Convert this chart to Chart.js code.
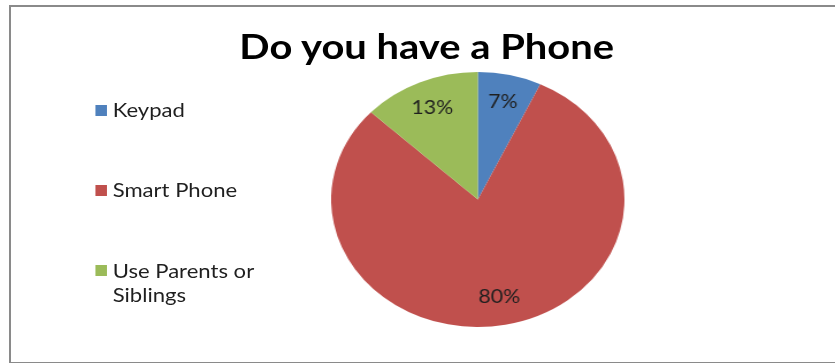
<!DOCTYPE html>
<html>
<head>
<meta charset="utf-8">
<script src="https://cdn.jsdelivr.net/npm/chart.js@4"></script>
<style>
  body {
    margin: 0;
    width: 835px;
    height: 363px;
    overflow: hidden;
    background: #fff;
    font-family: Lato, "Open Sans", sans-serif;
  }
  .frame {
    position: absolute;
    left: 9px;
    top: 5px;
    width: 860px;
    height: 355px;
    border: 2px solid #8a8a8a;
  }
  /* the original picture is stretched sideways, so the whole chart is too */
  .stretch {
    position: absolute;
    left: 0;
    top: 0;
    width: 726px;
    height: 363px;
    transform-origin: 0 0;
    transform: scaleX(1.15);
  }
  .chart-title {
    position: absolute;
    left: 0;
    width: 742px;
    top: 26px;
    text-align: center;
    font-weight: 700;
    font-size: 34.7px;
    line-height: 40px;
    color: #000;
  }
  #pie-chart {
    position: absolute;
    left: 288px;
    top: 72px;
  }
  .legend-item {
    position: absolute;
    left: 83px;
    font-size: 19.2px;
    line-height: 24px;
    color: #1f1f1f;
  }
  .legend-box {
    position: absolute;
    left: 0;
    top: 6.5px;
    width: 9.5px;
    height: 11px;
  }
  .legend-text {
    position: absolute;
    left: 15px;
    top: 0;
    width: 145px;
  }
</style>
</head>
<body>
<div class="frame"></div>
<div class="stretch">
  <div class="chart-title">Do you have a Phone</div>
  <div class="legend"></div>
  <canvas id="pie-chart" width="255" height="255"></canvas>
</div>
<script>
const categories = ["Keypad", "Smart Phone", "Use Parents or Siblings"];
const shares = [7, 80, 13];
const sliceColors = ["#4f81bd", "#c0504d", "#9bbb59"];

// legend rows, drawn as html text
const legendTop = 98;
const legendStep = 80.4;
const legend = document.querySelector(".legend");

categories.forEach((cat, index) => {
  const item = document.createElement("div");
  item.classList.add("legend-item");
  item.style.top = legendTop + index * legendStep + "px";

  const box = document.createElement("div");
  box.classList.add("legend-box");
  box.style.backgroundColor = sliceColors[index];
  item.appendChild(box);

  const text = document.createElement("div");
  text.classList.add("legend-text");
  text.textContent = cat;
  item.appendChild(text);

  legend.appendChild(item);
});

// percent labels inside the slices
const sliceLabels = {
  id: "sliceLabels",
  afterDatasetsDraw(chart) {
    const ctx = chart.ctx;
    const arcs = chart.getDatasetMeta(0).data;
    ctx.save();
    ctx.font = "18.5px Lato";
    ctx.fillStyle = "#1f1f1f";
    ctx.textAlign = "center";
    ctx.textBaseline = "middle";
    arcs.forEach((arc, i) => {
      const p = arc.getProps(["x", "y", "startAngle", "endAngle", "outerRadius"]);
      const mid = (p.startAngle + p.endAngle) / 2;
      const r = p.outerRadius * 0.78;
      ctx.fillText(shares[i] + "%", p.x + Math.cos(mid) * r, p.y + Math.sin(mid) * r);
    });
    ctx.restore();
  },
};

const ctx = document.getElementById("pie-chart");

const pieChart = new Chart(ctx, {
  type: "pie",
  data: {
    labels: categories,
    datasets: [
      {
        data: shares,
        backgroundColor: sliceColors,
        borderWidth: 0,
        hoverOffset: 0,
      },
    ],
  },
  options: {
    responsive: false,
    animation: false,
    devicePixelRatio: 1,
    layout: { padding: 0 },
    plugins: {
      legend: { display: false },
      tooltip: { enabled: false },
    },
  },
  plugins: [sliceLabels],
});
</script>
</body>
</html>
